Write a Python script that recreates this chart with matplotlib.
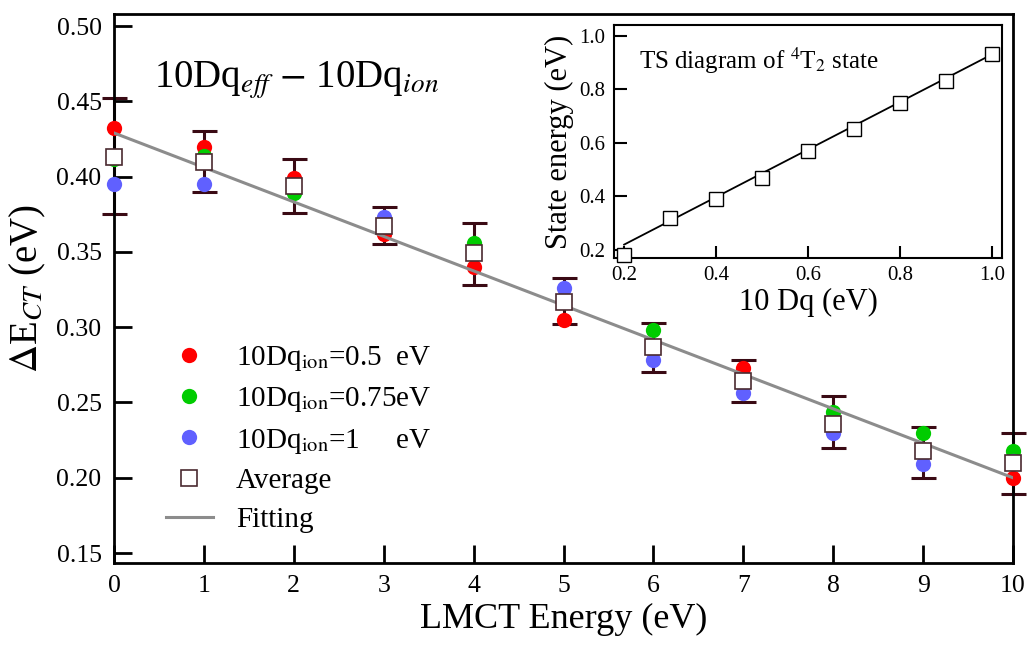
import matplotlib
matplotlib.use("Agg")
import matplotlib.pyplot as plt
import numpy as np

plt.rcParams['font.family'] = ['Liberation Serif', 'DejaVu Serif']
plt.rcParams['mathtext.fontset'] = 'stix'

# main panel data
lmct = np.arange(0, 11)
dq_05 = [0.432, 0.420, 0.399, 0.362, 0.340, 0.305, 0.285, 0.273, 0.236, 0.217, 0.200]
dq_075 = [0.412, 0.414, 0.389, 0.367, 0.356, 0.318, 0.298, 0.264, 0.244, 0.230, 0.218]
dq_1 = [0.395, 0.395, 0.394, 0.373, 0.349, 0.326, 0.278, 0.256, 0.230, 0.209, 0.211]
avg = [0.413, 0.410, 0.394, 0.367, 0.349, 0.317, 0.287, 0.264, 0.236, 0.218, 0.210]
err_lo = [0.375, 0.390, 0.376, 0.355, 0.328, 0.302, 0.270, 0.250, 0.220, 0.200, 0.189]
err_hi = [0.452, 0.430, 0.412, 0.380, 0.369, 0.333, 0.303, 0.278, 0.254, 0.234, 0.230]
fit_x = [0, 10]
fit_y = [0.429, 0.200]

# inset data
dq10 = [0.2, 0.3, 0.4, 0.5, 0.6, 0.7, 0.8, 0.9, 1.0]
state_e = [0.18, 0.32, 0.39, 0.47, 0.57, 0.65, 0.75, 0.83, 0.93]
ins_fit_x = [0.2, 1.0]
ins_fit_y = [0.22, 0.93]

fig = plt.figure(figsize=(10.29, 6.49), dpi=100)
ax = fig.add_axes([114/1029, 1-563/649, (1013-114)/1029, (563-14)/649])

avg = np.array(avg)
yerr = [avg - np.array(err_lo), np.array(err_hi) - avg]
ax.errorbar(lmct, avg, yerr=yerr, fmt='none', ecolor='#3a0a14', elinewidth=2.2,
            capsize=9, capthick=2.2, zorder=2, clip_on=False)
ax.plot(lmct, dq_05, 'o', color='#ff0000', ms=11, mec='none', zorder=3,
        clip_on=False, label=r'10Dq$_{\mathrm{ion}}$=0.5  eV')
ax.plot(lmct, dq_075, 'o', color='#00cc00', ms=11, mec='none', zorder=3,
        clip_on=False, label=r'10Dq$_{\mathrm{ion}}$=0.75eV')
ax.plot(lmct, dq_1, 'o', color='#6060ff', ms=11, mec='none', zorder=3,
        clip_on=False, label=r'10Dq$_{\mathrm{ion}}$=1     eV')
ax.plot(lmct, avg, 's', mfc='white', mec='#4a2a30', mew=1.2, ms=12, zorder=5,
        clip_on=False, label='Average')
ax.plot(fit_x, fit_y, '-', color='#8c8c8c', lw=2.2, zorder=4, label='Fitting')

ax.set_xlim(0, 10)
ax.set_ylim(0.1434, 0.508)
ax.set_xticks(range(0, 11))
ax.set_yticks(np.arange(0.15, 0.501, 0.05))
ax.yaxis.set_major_formatter(plt.FormatStrFormatter('%.2f'))
ax.tick_params(direction='in', length=13, width=2, labelsize=18.5, pad=9)
for s in ax.spines.values():
    s.set_linewidth(2)
ax.set_xlabel('LMCT Energy (eV)', fontsize=26, labelpad=4)
ax.set_ylabel(r'$\Delta$E$_{CT}$ (eV)', fontsize=28, labelpad=6)
ax.text(0.045, 0.865, r'10Dq$_{eff}$ $-$ 10Dq$_{ion}$', transform=ax.transAxes,
        fontsize=28)

ax.legend(loc='upper left', bbox_to_anchor=(0.045, 0.42), frameon=False,
          fontsize=21, handlelength=1.6, handletextpad=0.8, labelspacing=0.42,
          borderaxespad=0)

# inset
ins = fig.add_axes([614/1029, 1-258/649, (1002-614)/1029, (258-25)/649])
ins.plot(ins_fit_x, ins_fit_y, '-', color='black', lw=1.3, zorder=2)
ins.plot(dq10, state_e, 's', mfc='white', mec='black', mew=1.0, ms=10, zorder=3,
         clip_on=False)
ins.set_xlim(0.178, 1.022)
ins.set_ylim(0.17, 1.04)
ins.set_xticks(dq10[::2])
ins.set_yticks([0.2, 0.4, 0.6, 0.8, 1.0])
ins.xaxis.set_major_formatter(plt.FormatStrFormatter('%.1f'))
ins.yaxis.set_major_formatter(plt.FormatStrFormatter('%.1f'))
ins.tick_params(direction='in', length=9, width=1.5, labelsize=15, pad=6)
for s in ins.spines.values():
    s.set_linewidth(1.5)
ins.set_xlabel('10 Dq (eV)', fontsize=22, labelpad=2)
ins.set_ylabel('State energy (eV)', fontsize=22, labelpad=4)
ins.text(0.065, 0.81, r'TS diagram of $^4$T$_2$ state', transform=ins.transAxes,
         fontsize=18)

fig.savefig('out.png', dpi=100)
